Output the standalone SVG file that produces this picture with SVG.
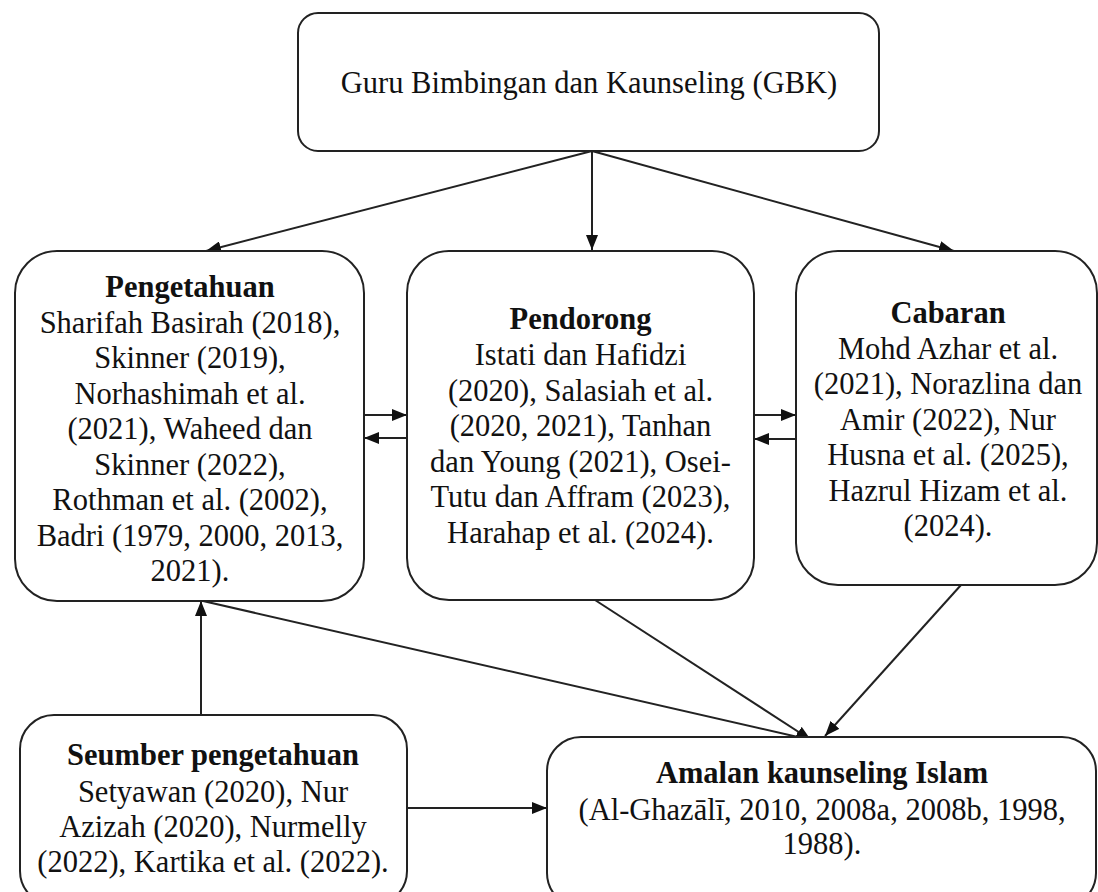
<svg xmlns="http://www.w3.org/2000/svg" width="1098" height="892" viewBox="0 0 1098 892">
<style>
.box{fill:#fff;stroke:#222;stroke-width:2}
.t{font-family:"Liberation Serif","Times New Roman",serif;font-size:30.5px;fill:#111;text-anchor:middle}
.b{font-weight:bold}
.c{fill:none;stroke:#222;stroke-width:2}
</style>
<defs>
<marker id="ah" markerUnits="userSpaceOnUse" markerWidth="16" markerHeight="12" refX="15" refY="6" orient="auto">
<path d="M0,0 L15,6 L0,12 Z" fill="#111"/>
</marker>
</defs>
<rect width="1098" height="892" fill="#fff"/>
<g id="connectors">
<line class="c" x1="592" y1="151" x2="206" y2="251" marker-end="url(#ah)"/>
<line class="c" x1="592" y1="151" x2="592" y2="250" marker-end="url(#ah)"/>
<line class="c" x1="592" y1="151" x2="954" y2="251" marker-end="url(#ah)"/>
<line class="c" x1="364" y1="415" x2="407" y2="415" marker-end="url(#ah)"/>
<line class="c" x1="407" y1="438" x2="364" y2="438" marker-end="url(#ah)"/>
<line class="c" x1="754" y1="415" x2="796" y2="415" marker-end="url(#ah)"/>
<line class="c" x1="796" y1="439" x2="754" y2="439" marker-end="url(#ah)"/>
<line class="c" x1="201" y1="715" x2="201" y2="601" marker-end="url(#ah)"/>
<line class="c" x1="203" y1="601" x2="811" y2="740" marker-end="url(#ah)"/>
<line class="c" x1="595" y1="600" x2="811" y2="740" marker-end="url(#ah)"/>
<line class="c" x1="961" y1="585" x2="825" y2="736" marker-end="url(#ah)"/>
<line class="c" x1="407" y1="808" x2="547" y2="808" marker-end="url(#ah)"/>
</g>
<g id="gbk">
<rect class="box" x="298" y="13" width="581" height="138" rx="20"/>
<text class="t" x="589" y="93">Guru Bimbingan dan Kaunseling (GBK)</text>
</g>
<g id="pengetahuan">
<rect class="box" x="15" y="251" width="349" height="350" rx="42"/>
<text class="t" x="190" y="297"><tspan class="b">Pengetahuan</tspan><tspan x="190" y="332.5">Sharifah Basirah (2018),</tspan><tspan x="190" y="368">Skinner (2019),</tspan><tspan x="190" y="403.5">Norhashimah et al.</tspan><tspan x="190" y="439">(2021), Waheed dan</tspan><tspan x="190" y="474.5">Skinner (2022),</tspan><tspan x="190" y="510">Rothman et al. (2002),</tspan><tspan x="190" y="545.5">Badri (1979, 2000, 2013,</tspan><tspan x="190" y="581">2021).</tspan></text>
</g>
<g id="pendorong">
<rect class="box" x="407" y="251" width="347" height="349" rx="42"/>
<text class="t" x="580.5" y="329"><tspan class="b">Pendorong</tspan><tspan x="580.5" y="365">Istati dan Hafidzi</tspan><tspan x="580.5" y="400.5">(2020), Salasiah et al.</tspan><tspan x="580.5" y="436">(2020, 2021), Tanhan</tspan><tspan x="580.5" y="471.5">dan Young (2021), Osei-</tspan><tspan x="580.5" y="507">Tutu dan Affram (2023),</tspan><tspan x="580.5" y="542.5">Harahap et al. (2024).</tspan></text>
</g>
<g id="cabaran">
<rect class="box" x="796" y="251" width="301" height="334" rx="42"/>
<text class="t" x="948" y="322.7"><tspan class="b">Cabaran</tspan><tspan x="948" y="358.5">Mohd Azhar et al.</tspan><tspan x="948" y="394">(2021), Norazlina dan</tspan><tspan x="948" y="429.5">Amir (2022), Nur</tspan><tspan x="948" y="465">Husna et al. (2025),</tspan><tspan x="948" y="500.5">Hazrul Hizam et al.</tspan><tspan x="948" y="536">(2024).</tspan></text>
</g>
<g id="seumber">
<rect class="box" x="20" y="715" width="387" height="190" rx="34"/>
<text class="t" x="213" y="765"><tspan class="b">Seumber pengetahuan</tspan><tspan x="213" y="801.5">Setyawan (2020), Nur</tspan><tspan x="213" y="837">Azizah (2020), Nurmelly</tspan><tspan x="213" y="872">(2022), Kartika et al. (2022).</tspan></text>
</g>
<g id="amalan">
<rect class="box" x="547" y="737" width="549" height="170" rx="34"/>
<text class="t" x="822" y="783"><tspan class="b">Amalan kaunseling Islam</tspan><tspan x="822" y="819.5">(Al-Ghazālī, 2010, 2008a, 2008b, 1998,</tspan><tspan x="822" y="854">1988).</tspan></text>
</g>
</svg>
